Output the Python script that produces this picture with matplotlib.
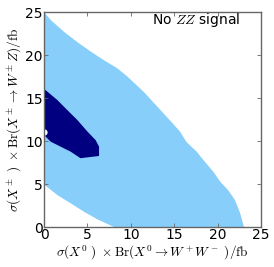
import numpy as np
import matplotlib
matplotlib.use('Agg')
import matplotlib.pyplot as plt

plt.rcParams['mathtext.fontset'] = 'cm'

# Outer (light blue) allowed region, traced clockwise from the top-left corner
outer_x = [0.0, 0.77, 2.3, 3.84, 5.38, 6.9, 8.45, 9.6, 11.5, 13.05, 14.6, 15.67, 16.4,
           17.6, 18.35, 19.5, 20.3, 21.2, 22.0, 22.6, 23.04,
           8.06, 6.14, 4.6, 3.07, 1.53, 0.0]
outer_y = [25.0, 24.07, 22.7, 21.5, 20.4, 19.4, 18.45, 17.5, 15.7, 14.0, 12.3, 11.1, 9.9,
           8.75, 7.8, 6.43, 5.27, 4.3, 3.14, 1.6, 0.0,
           0.0, 0.9, 1.78, 2.76, 3.72, 4.95]

# Inner (dark blue) region
inner_x = [0.0, 0.2, 1.53, 2.68, 3.84, 5.0, 5.95, 6.34, 6.34, 4.2, 3.07, 1.92, 0.77, 0.2, 0.0]
inner_y = [16.0, 15.9, 14.77, 13.6, 12.44, 11.1, 10.1, 9.34, 8.26, 8.0, 8.76, 9.34, 9.92, 10.5, 10.7]

# Best fit point
best_x = [0.05]
best_y = [11.0]

ticks = [0, 5, 10, 15, 20, 25]

fig = plt.figure(figsize=(2.74, 2.67), dpi=100)
ax = fig.add_axes([0.1606, 0.1498, 0.7920, 0.8052])

ax.fill(outer_x, outer_y, color='#87cefa', lw=0)
ax.fill(inner_x, inner_y, color='#000080', lw=0)
ax.plot(best_x, best_y, 'o', color='white', ms=4.5, mew=0)

ax.set_xlim(0, 25)
ax.set_ylim(0, 25)
ax.set_xticks(ticks)
ax.set_yticks(ticks)
ax.tick_params(direction='in', top=True, right=True, length=3, width=0.6,
               color='0.4', labelsize=10, pad=1)
for s in ax.spines.values():
    s.set_color('0.4')
    s.set_linewidth(1.0)

ax.set_xlabel(r'$\sigma(X^0\ )\ \times{\rm Br}(X^0 \to W^+W^-\ )/{\rm fb}$', fontsize=9.5, labelpad=1)
ax.set_ylabel(r'$\sigma(X^\pm\ )\ \times{\rm Br}(X^\pm \to W^\pm Z)/{\rm fb}$', fontsize=9.5, labelpad=1)
ax.text(0.70, 0.963, r'No $ZZ$ signal', transform=ax.transAxes, ha='center', va='center', fontsize=10)

plt.savefig('out.png', dpi=100)
